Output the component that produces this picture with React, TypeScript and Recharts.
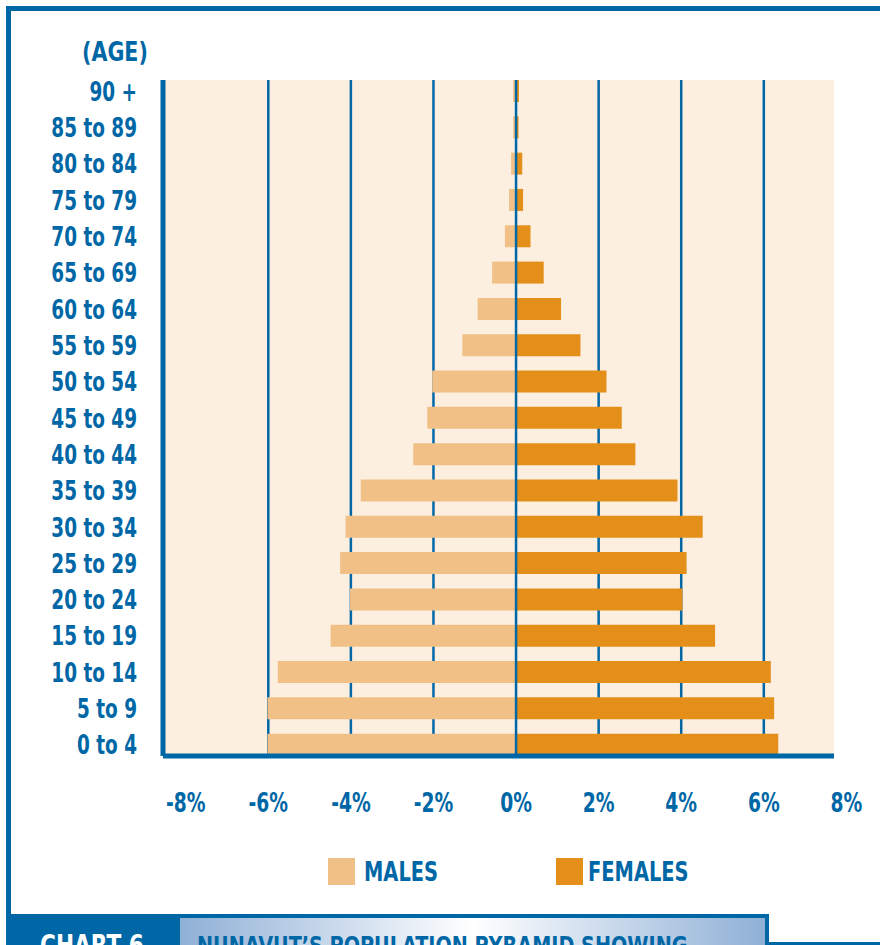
import React from 'react';
import { BarChart, Bar, XAxis, YAxis, CartesianGrid, ReferenceLine } from 'recharts';

// ---- data ----
const ageGroups = [
  '90 +', '85 to 89', '80 to 84', '75 to 79', '70 to 74', '65 to 69', '60 to 64',
  '55 to 59', '50 to 54', '45 to 49', '40 to 44', '35 to 39', '30 to 34', '25 to 29',
  '20 to 24', '15 to 19', '10 to 14', '5 to 9', '0 to 4',
];
const males = [
  -0.07, -0.07, -0.12, -0.17, -0.27, -0.58, -0.93, -1.3, -2.03, -2.15, -2.49, -3.76,
  -4.13, -4.26, -4.02, -4.49, -5.77, -6.02, -6.02,
];
const females = [
  0.07, 0.06, 0.15, 0.17, 0.35, 0.67, 1.09, 1.56, 2.19, 2.56, 2.89, 3.91, 4.52, 4.13,
  4.03, 4.82, 6.17, 6.25, 6.35,
];
const xTicks = [-8, -6, -4, -2, 0, 2, 4, 6, 8];
const gridValues = [-6, -4, -2, 2, 4, 6];
const seriesNames = ['MALES', 'FEMALES'];
const axisTitle = '(AGE)';
const chartNumber = 'CHART 6';
const chartTitle = 'NUNAVUT\u2019S POPULATION PYRAMID SHOWING';

const data = ageGroups.map((age, i) => ({ age, males: males[i], females: females[i] }));

// ---- styles ----
const BLUE = '#0067a6';
const MALE = '#f1c087';
const FEMALE = '#e38f1a';
const BEIGE = '#fcefdf';
const FONT = "'Liberation Sans Narrow', 'Arial Narrow', 'DejaVu Sans Condensed', sans-serif";
const colors = [MALE, FEMALE];
const legendLeft = [328, 556];

const YTick = (props: any) => {
  const { x, y, payload } = props;
  return (
    <text
      x={0}
      y={0}
      transform={`translate(${x},${y}) scale(0.76,1)`}
      textAnchor="end"
      dy="0.355em"
      fill={BLUE}
      fontSize={27}
      fontWeight={700}
      fontFamily={FONT}
    >
      {payload.value}
    </text>
  );
};

const XTick = (props: any) => {
  const { x, y, payload } = props;
  return (
    <text
      x={0}
      y={0}
      transform={`translate(${x},${y}) scale(0.8,1)`}
      textAnchor="middle"
      dy="0.71em"
      fill={BLUE}
      fontSize={26}
      fontWeight={700}
      fontFamily={FONT}
    >
      {`${payload.value}%`}
    </text>
  );
};

const squeeze = (s: number): React.CSSProperties => ({
  display: 'inline-block',
  transform: `scaleX(${s})`,
  transformOrigin: 'left center',
});

export default function App() {
  return (
    <div
      style={{
        position: 'absolute',
        left: 0,
        top: 0,
        width: 880,
        height: 945,
        overflow: 'hidden',
        background: '#ffffff',
        fontFamily: FONT,
      }}
    >
      {/* frame */}
      <div style={{ position: 'absolute', left: 6, top: 6, width: 874, height: 5, background: BLUE }} />
      <div style={{ position: 'absolute', left: 6, top: 6, width: 5, height: 910, background: BLUE }} />

      {/* axis title */}
      <div
        style={{
          position: 'absolute',
          left: 82,
          top: 38,
          fontSize: 27,
          lineHeight: 1,
          fontWeight: 700,
          color: BLUE,
          whiteSpace: 'nowrap',
        }}
      >
        <span style={squeeze(0.85)}>{axisTitle}</span>
      </div>

      <div style={{ position: 'absolute', left: 0, top: 0 }}>
        <BarChart
          width={880}
          height={945}
          data={data}
          layout="vertical"
          stackOffset="sign"
          margin={{ top: 80, right: 46, bottom: 129, left: 0 }}
        >
          <CartesianGrid
            fill={BEIGE}
            horizontal={false}
            vertical={true}
            verticalValues={gridValues}
            stroke={BLUE}
            strokeWidth={2.5}
          />
          <XAxis
            type="number"
            domain={[-8.55, 7.7]}
            allowDataOverflow
            ticks={xTicks}
            interval={0}
            tickLine={false}
            tickSize={0}
            tickMargin={38}
            height={60}
            axisLine={{ stroke: BLUE, strokeWidth: 5 }}
            tick={<XTick />}
          />
          <YAxis
            type="category"
            dataKey="age"
            width={163}
            interval={0}
            padding={{ top: -7, bottom: -7 }}
            tickLine={false}
            tickSize={0}
            tickMargin={26}
            axisLine={{ stroke: BLUE, strokeWidth: 5 }}
            tick={<YTick />}
          />
          <Bar dataKey="males" name={seriesNames[0]} stackId="pop" fill={MALE} barSize={22} isAnimationActive={false} />
          <Bar dataKey="females" name={seriesNames[1]} stackId="pop" fill={FEMALE} barSize={22} isAnimationActive={false} />
          <ReferenceLine x={0} stroke={BLUE} strokeWidth={2.5} />
        </BarChart>
      </div>

      {/* legend */}
      {seriesNames.map((name, i) => (
        <div
          key={name}
          style={{
            position: 'absolute',
            left: legendLeft[i],
            top: 858,
            height: 27,
            display: 'flex',
            alignItems: 'center',
            whiteSpace: 'nowrap',
          }}
        >
          <div style={{ width: 27, height: 27, background: colors[i] }} />
          <span
            style={{
              marginLeft: i === 0 ? 9 : 5,
              fontSize: 27,
              lineHeight: 1,
              fontWeight: 700,
              color: BLUE,
            }}
          >
            <span style={squeeze(0.8)}>{name}</span>
          </span>
        </div>
      ))}

      {/* bottom caption band */}
      <div style={{ position: 'absolute', left: 6, top: 914, width: 763, height: 31, background: BLUE }} />
      <div
        style={{
          position: 'absolute',
          left: 180,
          top: 918,
          width: 585,
          height: 27,
          background: 'linear-gradient(to right, #8fb0d6 0%, #ffffff 50%, #8fb0d6 100%)',
        }}
      />
      <div style={{ position: 'absolute', left: 769, top: 942, width: 111, height: 3, background: BLUE }} />
      <div
        style={{
          position: 'absolute',
          left: 40,
          top: 932,
          fontSize: 28,
          lineHeight: 1,
          fontWeight: 700,
          color: '#ffffff',
          whiteSpace: 'nowrap',
        }}
      >
        <span style={squeeze(0.86)}>{chartNumber}</span>
      </div>
      <div
        style={{
          position: 'absolute',
          left: 197,
          top: 934,
          fontSize: 24,
          lineHeight: 1,
          fontWeight: 700,
          color: BLUE,
          whiteSpace: 'nowrap',
        }}
      >
        <span style={squeeze(0.89)}>{chartTitle}</span>
      </div>
    </div>
  );
}
